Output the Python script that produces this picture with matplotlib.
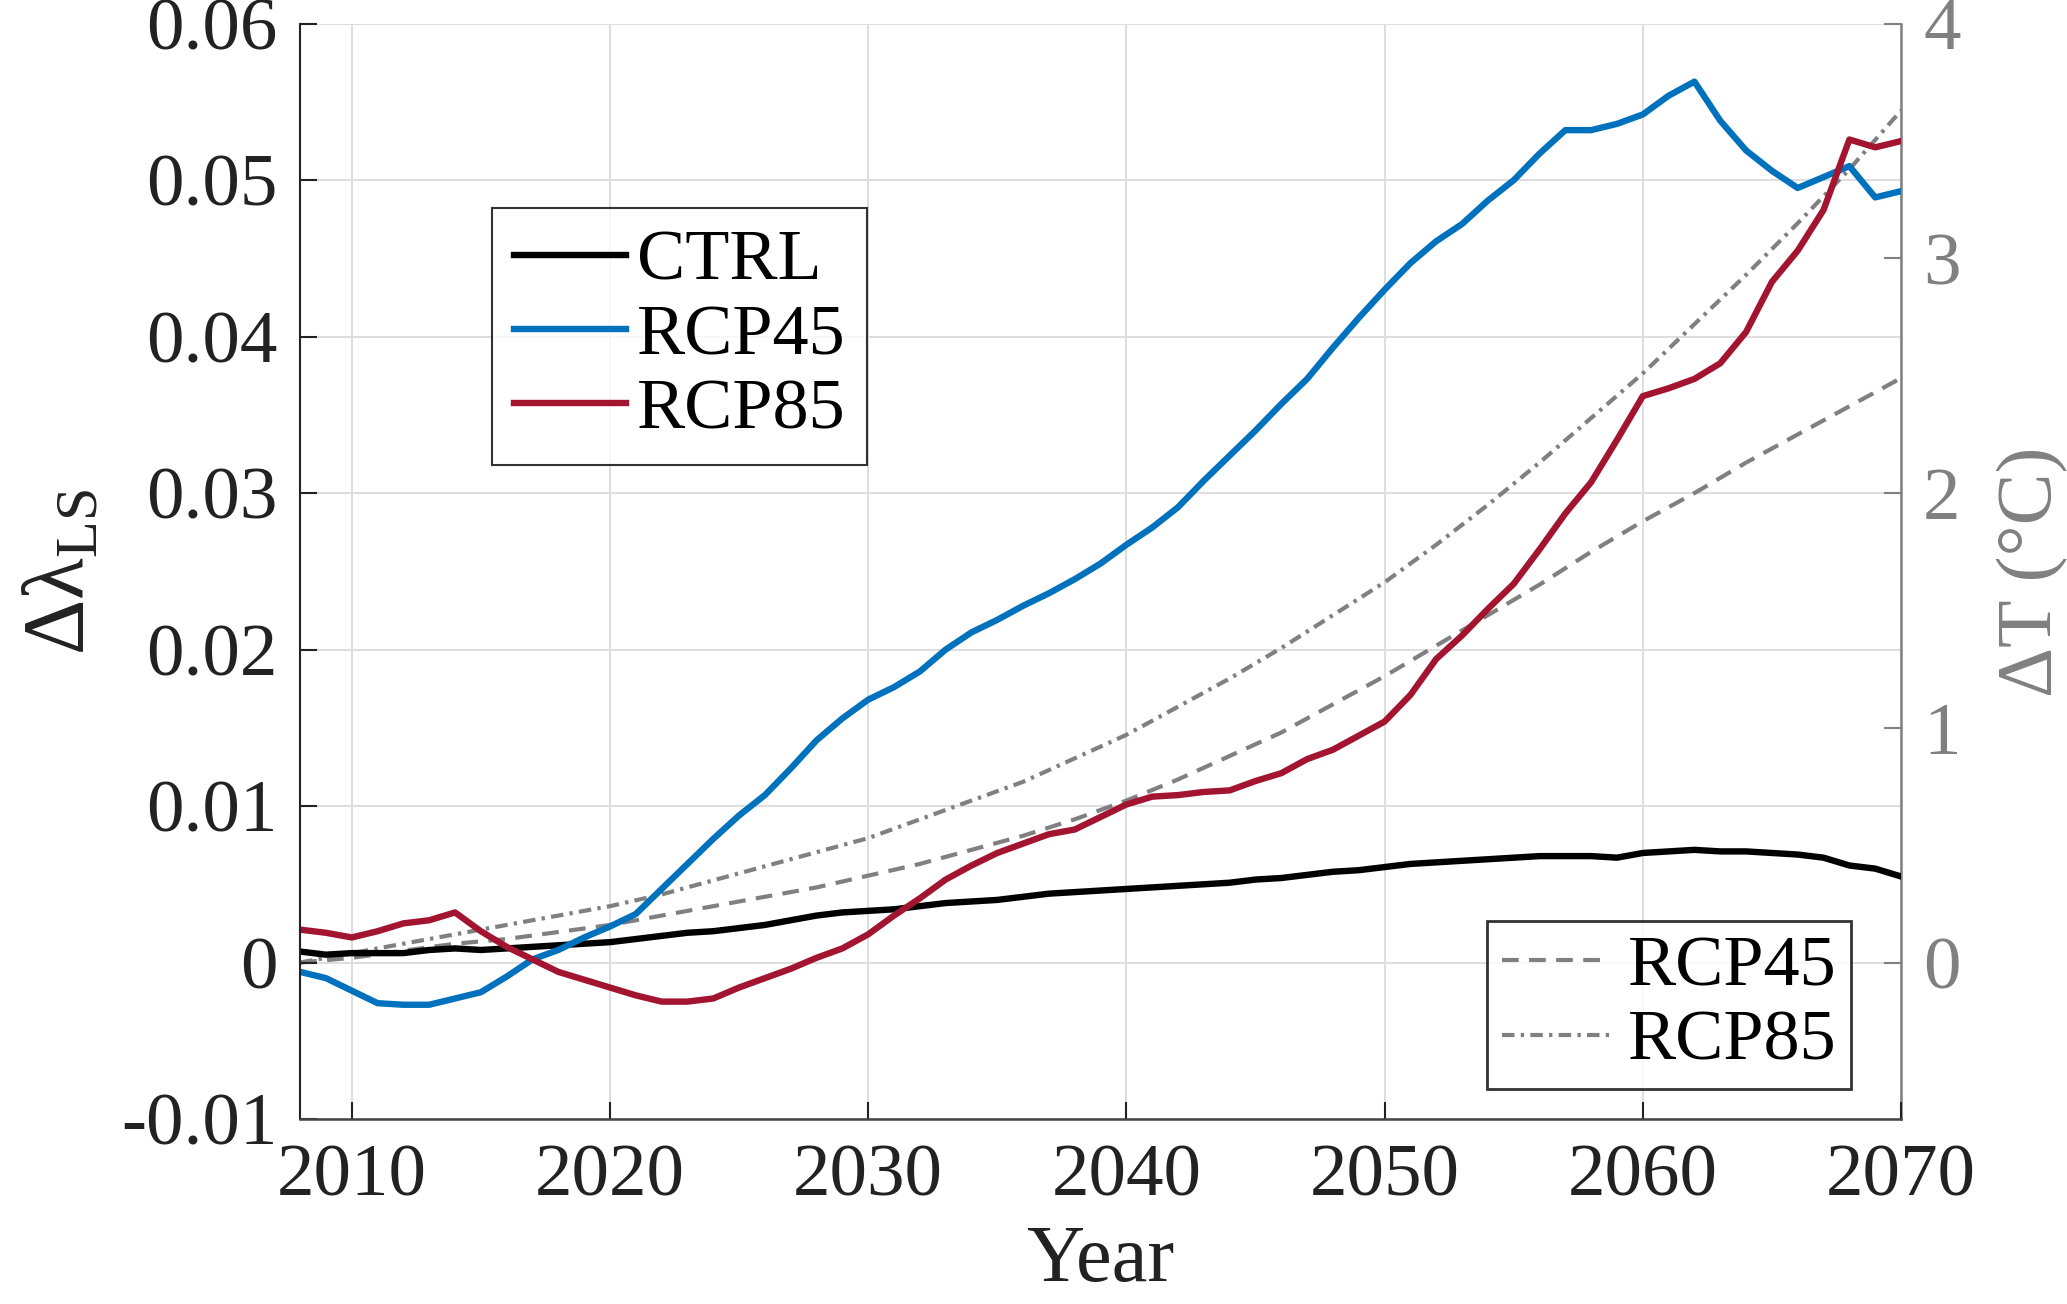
import matplotlib
matplotlib.use("Agg")
import matplotlib.pyplot as plt
import numpy as np

plt.rcParams['font.family'] = ['Liberation Serif', 'DejaVu Serif']
plt.rcParams['mathtext.fontset'] = 'custom'
plt.rcParams['mathtext.rm'] = 'Liberation Serif'
plt.rcParams['axes.unicode_minus'] = False

# yearly lambda changes
years = list(range(2008, 2071))
ctrl = [0.0007, 0.0005, 0.0006, 0.0006, 0.0006, 0.0008, 0.0009, 0.0008, 0.0009, 0.0010,
        0.0011, 0.0012, 0.0013, 0.0015, 0.0017, 0.0019, 0.0020, 0.0022, 0.0024, 0.0027,
        0.0030, 0.0032, 0.0033, 0.0034, 0.0036, 0.0038, 0.0039, 0.0040, 0.0042, 0.0044,
        0.0045, 0.0046, 0.0047, 0.0048, 0.0049, 0.0050, 0.0051, 0.0053, 0.0054, 0.0056,
        0.0058, 0.0059, 0.0061, 0.0063, 0.0064, 0.0065, 0.0066, 0.0067, 0.0068, 0.0068,
        0.0068, 0.0067, 0.0070, 0.0071, 0.0072, 0.0071, 0.0071, 0.0070, 0.0069, 0.0067,
        0.0062, 0.0060, 0.0055]
rcp45 = [-0.0006, -0.0010, -0.0018, -0.0026, -0.0027, -0.0027, -0.0023, -0.0019, -0.0009, 0.0002,
         0.0008, 0.0016, 0.0023, 0.0031, 0.0047, 0.0063, 0.0079, 0.0094, 0.0107, 0.0124,
         0.0142, 0.0156, 0.0168, 0.0176, 0.0186, 0.0200, 0.0211, 0.0219, 0.0228, 0.0236,
         0.0245, 0.0255, 0.0267, 0.0278, 0.0291, 0.0308, 0.0324, 0.0340, 0.0357, 0.0373,
         0.0393, 0.0412, 0.0430, 0.0447, 0.0461, 0.0472, 0.0487, 0.0500, 0.0517, 0.0532,
         0.0532, 0.0536, 0.0542, 0.0554, 0.0563, 0.0538, 0.0519, 0.0506, 0.0495, 0.0502,
         0.0509, 0.0489, 0.0493]
rcp85 = [0.0021, 0.0019, 0.0016, 0.0020, 0.0025, 0.0027, 0.0032, 0.0020, 0.0010, 0.0002,
         -0.0006, -0.0011, -0.0016, -0.0021, -0.0025, -0.0025, -0.0023, -0.0016, -0.0010, -0.0004,
         0.0003, 0.0009, 0.0018, 0.0030, 0.0041, 0.0053, 0.0062, 0.0070, 0.0076, 0.0082,
         0.0085, 0.0093, 0.0101, 0.0106, 0.0107, 0.0109, 0.0110, 0.0116, 0.0121, 0.0130,
         0.0136, 0.0145, 0.0154, 0.0171, 0.0194, 0.0209, 0.0226, 0.0242, 0.0264, 0.0287,
         0.0307, 0.0334, 0.0362, 0.0367, 0.0373, 0.0383, 0.0403, 0.0435, 0.0455, 0.0481,
         0.0526, 0.0521, 0.0525]

# temperature change (right axis)
t_years = list(range(2008, 2071, 2))
t_rcp45 = [0.00, 0.02, 0.05, 0.08, 0.10, 0.13, 0.16, 0.20, 0.24, 0.28,
           0.32, 0.37, 0.42, 0.48, 0.54, 0.61, 0.69, 0.78, 0.88, 0.98,
           1.10, 1.22, 1.35, 1.48, 1.61, 1.75, 1.88, 2.00, 2.13, 2.25,
           2.37, 2.49]
t_rcp85 = [0.00, 0.04, 0.08, 0.12, 0.16, 0.20, 0.24, 0.29, 0.35, 0.41,
           0.47, 0.53, 0.61, 0.69, 0.77, 0.87, 0.97, 1.09, 1.21, 1.34,
           1.48, 1.62, 1.78, 1.95, 2.13, 2.32, 2.51, 2.72, 2.93, 3.15,
           3.38, 3.63]

x_ticks = [2010, 2020, 2030, 2040, 2050, 2060, 2070]
y_ticks = [-0.01, 0, 0.01, 0.02, 0.03, 0.04, 0.05, 0.06]
y_labels = ['-0.01', '0', '0.01', '0.02', '0.03', '0.04', '0.05', '0.06']
t_ticks = [0, 1, 2, 3, 4]

BLUE = '#0072BD'
RED = '#A2142F'
GRAY = '#808080'
FS = 54

fig = plt.figure(figsize=(20.67, 13.04), dpi=100)
ax = fig.add_axes([0.1452, 0.1419, 0.7745, 0.8399])
ax2 = ax.twinx()
ax.set_zorder(ax2.get_zorder() + 1)
ax.patch.set_visible(False)

l1, = ax.plot(years, ctrl, color='black', lw=4.6, label='CTRL')
l2, = ax.plot(years, rcp45, color=BLUE, lw=4.6, label='RCP45')
l3, = ax.plot(years, rcp85, color=RED, lw=4.6, label='RCP85')

d1, = ax2.plot(t_years, t_rcp45, color=GRAY, lw=3.0, ls=(0, (4, 2.5)), label='RCP45')
d2, = ax2.plot(t_years, t_rcp85, color=GRAY, lw=3.0, ls=(0, (3, 1.5, 0.8, 1.5)), label='RCP85')

ax.set_xlim(2008, 2070)
ax.set_ylim(-0.01, 0.06)
ax2.set_ylim(-0.01 / 0.015, 0.06 / 0.015)

ax.set_xticks(x_ticks)
ax.set_xticklabels([str(x) for x in x_ticks])
ax.set_yticks(y_ticks)
ax.set_yticklabels(y_labels)
ax2.set_yticks(t_ticks)
ax2.set_yticklabels([str(t) for t in t_ticks])

ax2.grid(False)
for xt in x_ticks:
    ax2.axvline(xt, color='#dedede', lw=1.4, zorder=0)
for yt in y_ticks:
    ax2.axhline(yt / 0.015, color='#dedede', lw=1.4, zorder=0)

ax.tick_params(axis='both', direction='in', length=12, width=1.5, labelsize=FS, colors='#222222')
ax.tick_params(axis='y', pad=16)
ax.tick_params(axis='x', pad=18)
ax2.tick_params(axis='y', direction='in', length=12, width=1.5, labelsize=FS, colors=GRAY, pad=16)

for a in (ax, ax2):
    a.spines['top'].set_visible(False)
ax.spines['right'].set_visible(False)
ax.spines['left'].set_linewidth(1.5)
ax.spines['bottom'].set_linewidth(1.8)
ax.spines['left'].set_color('#222222')
ax.spines['bottom'].set_color('#444444')
ax2.spines['right'].set_color(GRAY)
ax2.spines['right'].set_linewidth(1.8)
ax2.spines['left'].set_visible(False)
ax2.spines['bottom'].set_visible(False)

ax.set_xlabel('Year', fontsize=FS + 4, color='#222222', labelpad=10)
ax.set_ylabel('Δλ$_{\\rm LS}$', fontsize=FS + 8, color='#222222', labelpad=14)
ax2.set_ylabel('ΔT (°C)', fontsize=FS + 2, color=GRAY, labelpad=26)

leg1 = ax.legend(handles=[l1, l2, l3], loc='upper left', bbox_to_anchor=(0.12, 0.832),
                 fontsize=FS - 2, frameon=True, fancybox=False, edgecolor='black',
                 handlelength=1.55, handletextpad=0.15, borderpad=0.3, labelspacing=0.12,
                 borderaxespad=0)
leg1.get_frame().set_linewidth(1.5)

leg2 = ax2.legend(handles=[d1, d2], loc='lower right', bbox_to_anchor=(0.969, 0.027),
                  fontsize=FS - 2, frameon=True, fancybox=False, edgecolor='black',
                  handlelength=1.5, handletextpad=0.25, borderpad=0.2, labelspacing=0.12,
                  borderaxespad=0)
leg2.get_frame().set_linewidth(2.0)

fig.savefig('out.png', dpi=100)
